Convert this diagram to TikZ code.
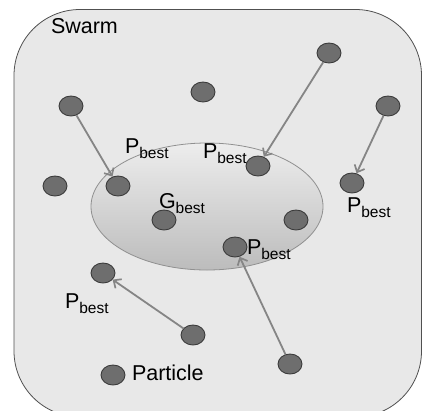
\documentclass[tikz,border=0pt]{standalone}
\usepackage{fontspec}
\setmainfont{Liberation Sans}
\usetikzlibrary{arrows.meta,shapes.geometric}

\definecolor{swarmfill}{HTML}{E8E8E8}
\definecolor{swarmline}{HTML}{505050}
\definecolor{dotfill}{HTML}{6E6E6E}
\definecolor{dotline}{HTML}{3C3C3C}
\definecolor{moveline}{HTML}{858585}
\definecolor{zonetop}{HTML}{EDEDED}
\definecolor{zonebottom}{HTML}{BCBCBC}
\definecolor{zoneline}{HTML}{909090}

\newcommand{\bigtxt}{\fontsize{21.5}{24}\selectfont}
\newcommand{\subtxt}{\fontsize{15.5}{17}\selectfont}
\newcommand{\best}[1]{\bigtxt #1\raisebox{-5pt}{\subtxt best}}

\tikzset{
  particle/.style={ellipse, draw=dotline, fill=dotfill, line width=0.9pt,
    minimum width=24pt, minimum height=20pt, inner sep=0pt},
  move/.style={draw=moveline, line width=1.8pt,
    -{Straight Barb[length=6pt,width=11pt,line width=1.7pt]}},
  tag/.style={anchor=base west, inner sep=0pt, outer sep=0pt},
}

\begin{document}
\begin{tikzpicture}[x=1pt, y=-1pt]
  \useasboundingbox (0,0) rectangle (422,410);
  \begin{scope}
    \clip (0,0) rectangle (422,410);
    % swarm area
    \draw[swarmline, fill=swarmfill, line width=0.8pt, rounded corners=66pt]
      (14,9.5) rectangle (421.5,417);

    % region around the best positions
    \node[ellipse, draw=zoneline, line width=0.8pt,
          top color=zonetop, bottom color=zonebottom,
          minimum width=232pt, minimum height=127pt, inner sep=0pt]
      (zone) at (207,206.5) {};

    % particles
    \node[particle] (p1)  at (71,106)  {};
    \node[particle] (p2)  at (203,92)  {};
    \node[particle] (p3)  at (329,53)  {};
    \node[particle] (p4)  at (388,106) {};
    \node[particle] (p5)  at (55,186)  {};
    \node[particle] (p6)  at (118,186) {};
    \node[particle] (p7)  at (258,166) {};
    \node[particle] (p8)  at (352,183) {};
    \node[particle] (p9)  at (164,220) {};
    \node[particle] (p10) at (296,220) {};
    \node[particle] (p11) at (235,247) {};
    \node[particle] (p12) at (103,273) {};
    \node[particle] (p13) at (193,335) {};
    \node[particle] (p14) at (290,364) {};
    \node[particle] (p15) at (113,375) {};

    % moves towards the personal bests
    \draw[move] (p1)  -- (p6);
    \draw[move] (p3)  -- (p7);
    \draw[move] (p4)  -- (p8);
    \draw[move] (p13) -- (p12);
    \draw[move] (p14) -- (p11);

    % labels
    \node[tag] (swarm) at (51,33)  {\bigtxt Swarm};
    \node[tag] (pb1)   at (125,153) {\best{P}};
    \node[tag] (pb2)   at (203,158) {\best{P}};
    \node[tag] (pb3)   at (347,212) {\best{P}};
    \node[tag] (pb4)   at (247,254) {\best{P}};
    \node[tag] (pb5)   at (65,308)  {\best{P}};
    \node[tag] (gb)    at (159,208) {\best{G}};
    \node[tag] (part)  at (132,380) {\bigtxt Particle};
  \end{scope}
\end{tikzpicture}
\end{document}
